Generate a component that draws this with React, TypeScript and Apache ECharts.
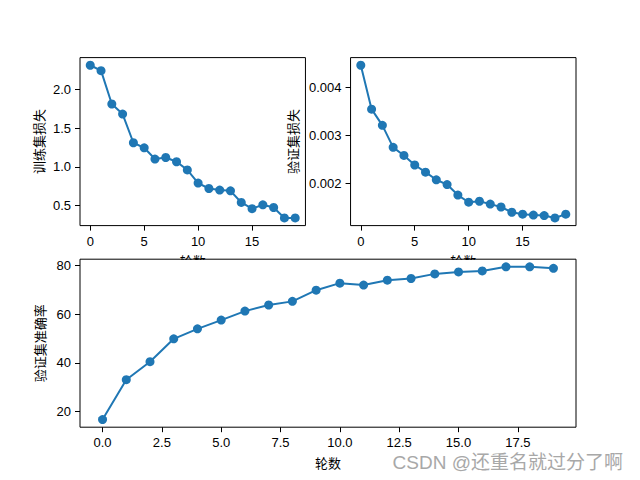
import React, { useEffect, useRef } from "react";
import * as echarts from "echarts";

const epochs = [0, 1, 2, 3, 4, 5, 6, 7, 8, 9, 10, 11, 12, 13, 14, 15, 16, 17, 18, 19];
const trainLoss = [2.31, 2.24, 1.81, 1.68, 1.31, 1.245, 1.1, 1.12, 1.065, 0.96, 0.79, 0.72, 0.7, 0.69, 0.54, 0.46, 0.51, 0.475, 0.34, 0.34];
const valLoss = [0.00447, 0.00355, 0.00321, 0.00275, 0.00258, 0.00238, 0.00223, 0.00207, 0.00197, 0.00175, 0.0016, 0.00162, 0.00156, 0.0015, 0.00139, 0.00135, 0.00133, 0.00132, 0.00127, 0.00135];
const valAcc = [16.7, 33.1, 40.5, 49.9, 54.0, 57.6, 61.3, 63.8, 65.3, 69.9, 72.8, 72.0, 74.0, 74.7, 76.6, 77.4, 77.8, 79.5, 79.5, 78.9];

const topXTicks = [0, 5, 10, 15];
const bottomXTicks = [0, 2.5, 5, 7.5, 10, 12.5, 15, 17.5];
const trainLossTicks = [0.5, 1.0, 1.5, 2.0];
const valLossTicks = [0.002, 0.003, 0.004];
const valAccTicks = [20, 40, 60, 80];

const xName = "轮数";
const trainLossName = "训练集损失";
const valLossName = "验证集损失";
const valAccName = "验证集准确率";
const watermark = "CSDN @还重名就过分了啊";

const COLOR = "#1f77b4";
const FONT = "'Noto Sans CJK SC', 'DejaVu Sans', sans-serif";
const TICK_FONT = "'Liberation Sans', 'DejaVu Sans', sans-serif";
const MARK_FONT = "'Liberation Sans', 'Noto Sans CJK SC', sans-serif";

function pad(vals: number[]): [number, number] {
  const mn = Math.min(...vals);
  const mx = Math.max(...vals);
  const m = (mx - mn) * 0.05;
  return [mn - m, mx + m];
}

function xAxis(gridIndex: number, ticks: number[], digits: number) {
  const [mn, mx] = pad(epochs);
  return {
    type: "value",
    gridIndex,
    min: mn,
    max: mx,
    name: xName,
    nameLocation: "middle",
    nameGap: 28,
    nameTextStyle: { color: "#000", fontSize: 13, fontFamily: FONT, verticalAlign: "top", lineHeight: 14 },
    axisLine: { show: false, onZero: false },
    splitLine: { show: false },
    axisTick: { show: true, inside: false, length: 5, lineStyle: { color: "#000", width: 1 }, customValues: ticks },
    axisLabel: {
      show: true,
      margin: 9,
      color: "#000",
      fontSize: 13,
      lineHeight: 13,
      fontFamily: TICK_FONT,
      customValues: ticks,
      formatter: (v: number) => v.toFixed(digits),
    },
  };
}

function yAxis(gridIndex: number, vals: number[], ticks: number[], digits: number, name: string, nameGap: number) {
  const [mn, mx] = pad(vals);
  return {
    type: "value",
    gridIndex,
    min: mn,
    max: mx,
    name,
    nameLocation: "middle",
    nameGap,
    nameRotate: 90,
    nameTextStyle: { color: "#000", fontSize: 13, fontFamily: FONT },
    axisLine: { show: false, onZero: false },
    splitLine: { show: false },
    axisTick: { show: true, inside: false, length: 5, lineStyle: { color: "#000", width: 1 }, customValues: ticks },
    axisLabel: {
      show: true,
      margin: 9,
      color: "#000",
      fontSize: 13,
      lineHeight: 13,
      fontFamily: TICK_FONT,
      customValues: ticks,
      formatter: (v: number) => v.toFixed(digits),
    },
  };
}

function lineSeries(idx: number, vals: number[]) {
  return {
    type: "line",
    xAxisIndex: idx,
    yAxisIndex: idx,
    data: epochs.map((e, i) => [e, vals[i]]),
    symbol: "circle",
    symbolSize: 9,
    showSymbol: true,
    clip: false,
    lineStyle: { color: COLOR, width: 2 },
    itemStyle: { color: COLOR, borderWidth: 0 },
    z: 3,
  };
}

export default function App() {
  const ref = useRef<HTMLDivElement>(null);
  useEffect(() => {
    if (!ref.current) return;
    const chart = echarts.init(ref.current, null, { renderer: "svg" });
    const gridBase = { show: true, borderColor: "#000", borderWidth: 1, backgroundColor: "transparent", containLabel: false };
    chart.setOption({
      animation: false,
      backgroundColor: "#fff",
      grid: [
        { ...gridBase, left: 80, top: 57.6, width: 225.45, height: 168 },
        { ...gridBase, left: 350.55, top: 57.6, width: 225.45, height: 168 },
        { ...gridBase, left: 80, top: 259.2, width: 496, height: 168 },
      ],
      xAxis: [xAxis(0, topXTicks, 0), xAxis(1, topXTicks, 0), xAxis(2, bottomXTicks, 1)],
      yAxis: [
        yAxis(0, trainLoss, trainLossTicks, 1, trainLossName, 35),
        yAxis(1, valLoss, valLossTicks, 3, valLossName, 52),
        yAxis(2, valAcc, valAccTicks, 0, valAccName, 31),
      ],
      series: [lineSeries(0, trainLoss), lineSeries(1, valLoss), lineSeries(2, valAcc)],
      graphic: [
        { type: "rect", z: 1, silent: true, shape: { x: 160, y: 260, width: 66, height: 12 }, style: { fill: "#fff" } },
        { type: "rect", z: 1, silent: true, shape: { x: 430, y: 260, width: 66, height: 12 }, style: { fill: "#fff" } },
        {
          type: "text",
          z: 10,
          right: 17,
          top: 453,
          style: { text: watermark, fill: "#a8a8a8", font: "19px " + MARK_FONT, lineHeight: 18 },
        },
      ],
    });
    return () => chart.dispose();
  }, []);
  return <div ref={ref} style={{ position: "absolute", left: 0, top: 0, width: 640, height: 480 }} />;
}
